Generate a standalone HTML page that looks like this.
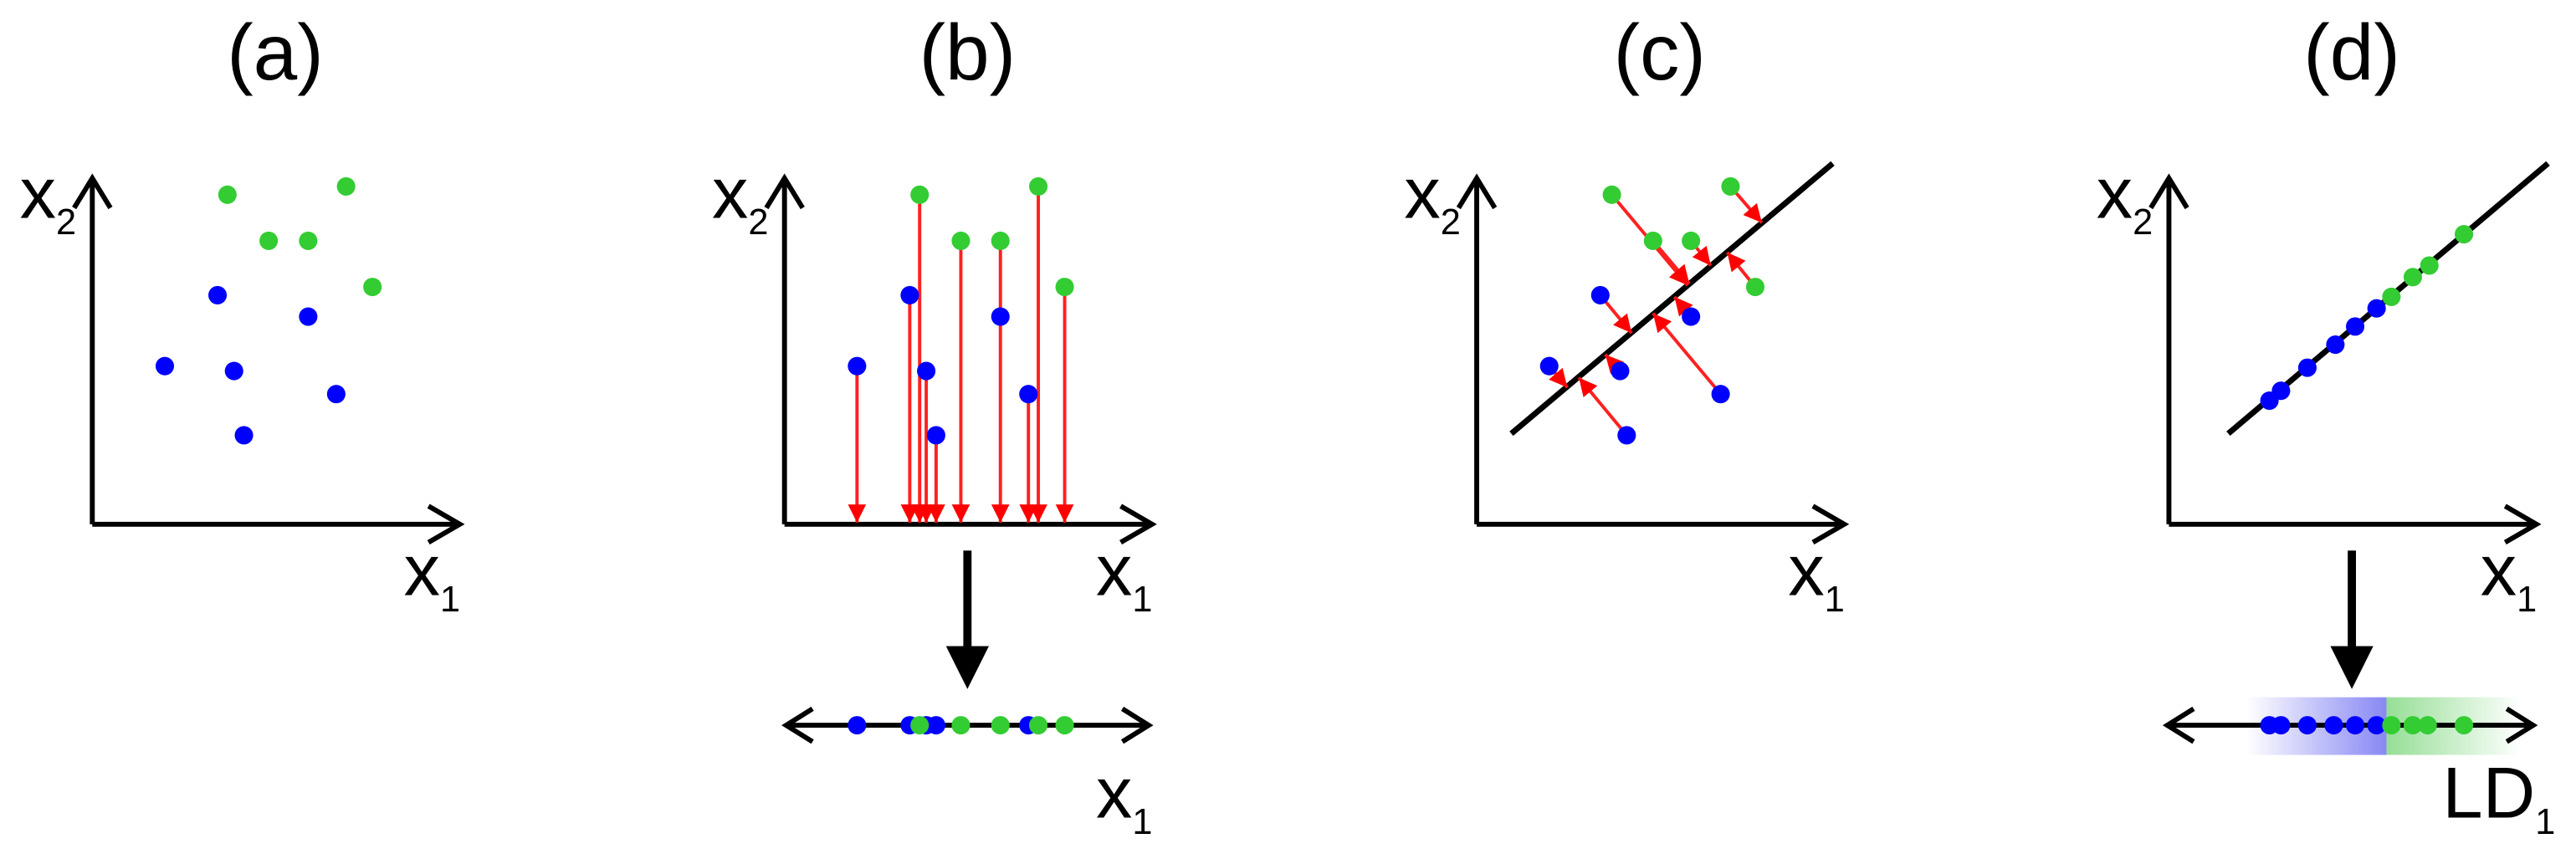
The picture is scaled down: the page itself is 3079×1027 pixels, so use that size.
<!DOCTYPE html>
<html><head><meta charset="utf-8"><style>html,body{margin:0;padding:0;background:#fff}svg{display:block}</style></head><body>
<svg width="3079" height="1027" viewBox="0 0 1563 521" xmlns="http://www.w3.org/2000/svg" font-family="Liberation Sans, Arial, sans-serif">
<defs>
<marker id="rh" viewBox="0 0 10 10" refX="10" refY="5" markerWidth="5.5" markerHeight="6" markerUnits="strokeWidth" orient="auto"><path d="M0,0 L10,5 L0,10 z" fill="#ff0000"/></marker>
<linearGradient id="gb" x1="0" x2="1" y1="0" y2="0"><stop offset="0" stop-color="#6060f0" stop-opacity="0"/><stop offset="1" stop-color="#6060f0" stop-opacity="0.75"/></linearGradient>
<linearGradient id="gg" x1="0" x2="1" y1="0" y2="0"><stop offset="0" stop-color="#50c850" stop-opacity="0.6"/><stop offset="1" stop-color="#50c850" stop-opacity="0"/></linearGradient>
<g id="axes" fill="none" stroke="#000" stroke-width="3">
<path d="M56,318 V108 M45,126 L56,108 L67,126"/>
<path d="M56,318 H279 M260,307 L279,318 L260,329"/>
</g>
</defs>

<g font-size="48" text-anchor="middle" fill="#000">
<text x="167" y="48">(a)</text><text x="587" y="48">(b)</text><text x="1007" y="48">(c)</text><text x="1427" y="48">(d)</text>
</g>

<g>
<use href="#axes"/><use href="#axes" x="420"/><use href="#axes" x="840"/><use href="#axes" x="1260"/>
</g>
<g fill="#000" font-size="44">
<text x="12" y="132">x<tspan font-size="22" dy="10">2</tspan></text>
<text x="432" y="132">x<tspan font-size="22" dy="10">2</tspan></text>
<text x="852" y="132">x<tspan font-size="22" dy="10">2</tspan></text>
<text x="1272" y="132">x<tspan font-size="22" dy="10">2</tspan></text>
<text x="245" y="361">x<tspan font-size="22" dy="10">1</tspan></text>
<text x="665" y="361">x<tspan font-size="22" dy="10">1</tspan></text>
<text x="1085" y="361">x<tspan font-size="22" dy="10">1</tspan></text>
<text x="1505" y="361">x<tspan font-size="22" dy="10">1</tspan></text>
<text x="665" y="496">x<tspan font-size="22" dy="10">1</tspan></text>
<text x="1482" y="496">LD<tspan font-size="22" dy="10">1</tspan></text>
</g>

<g fill="#33cc33"><circle cx="138" cy="118" r="5.6"/><circle cx="163" cy="146" r="5.6"/><circle cx="187" cy="146" r="5.6"/><circle cx="210" cy="113" r="5.6"/><circle cx="226" cy="174" r="5.6"/></g>
<g fill="#0000ff"><circle cx="100" cy="222" r="5.6"/><circle cx="132" cy="179" r="5.6"/><circle cx="142" cy="225" r="5.6"/><circle cx="148" cy="264" r="5.6"/><circle cx="187" cy="192" r="5.6"/><circle cx="204" cy="239" r="5.6"/></g>

<g stroke="#ff2020" stroke-width="2" marker-end="url(#rh)">
<line x1="520" y1="222" x2="520" y2="317"/><line x1="552" y1="179" x2="552" y2="317"/><line x1="558" y1="118" x2="558" y2="317"/>
<line x1="562" y1="225" x2="562" y2="317"/><line x1="568" y1="264" x2="568" y2="317"/><line x1="583" y1="146" x2="583" y2="317"/>
<line x1="607" y1="146" x2="607" y2="317"/><line x1="624" y1="239" x2="624" y2="317"/><line x1="630" y1="113" x2="630" y2="317"/>
<line x1="646" y1="174" x2="646" y2="317"/>
</g>
<g fill="#33cc33"><circle cx="558" cy="118" r="5.6"/><circle cx="583" cy="146" r="5.6"/><circle cx="607" cy="146" r="5.6"/><circle cx="630" cy="113" r="5.6"/><circle cx="646" cy="174" r="5.6"/></g>
<g fill="#0000ff"><circle cx="520" cy="222" r="5.6"/><circle cx="552" cy="179" r="5.6"/><circle cx="562" cy="225" r="5.6"/><circle cx="568" cy="264" r="5.6"/><circle cx="607" cy="192" r="5.6"/><circle cx="624" cy="239" r="5.6"/></g>
<path d="M587,334 V395" stroke="#000" stroke-width="5"/><path d="M574,392 H600 L587,418 z" fill="#000"/>
<path d="M477,440 H697 M493,430 L477,440 L493,450 M681,430 L697,440 L681,450" fill="none" stroke="#000" stroke-width="3"/>
<g fill="#0000ff"><circle cx="520" cy="440" r="5.6"/><circle cx="552" cy="440" r="5.6"/><circle cx="562" cy="440" r="5.6"/><circle cx="568" cy="440" r="5.6"/><circle cx="624" cy="440" r="5.6"/></g>
<g fill="#33cc33"><circle cx="558" cy="440" r="5.6"/><circle cx="583" cy="440" r="5.6"/><circle cx="607" cy="440" r="5.6"/><circle cx="630" cy="440" r="5.6"/><circle cx="646" cy="440" r="5.6"/></g>

<line x1="917" y1="263" x2="1112" y2="99" stroke="#000" stroke-width="3.5"/>
<g stroke="#ff2020" stroke-width="2" marker-end="url(#rh)">
<line x1="978" y1="118" x2="1024" y2="173"/><line x1="1050" y1="113" x2="1069" y2="135"/><line x1="1003" y1="146" x2="1025" y2="172"/>
<line x1="1026" y1="146" x2="1038" y2="161"/><line x1="1065" y1="174" x2="1048" y2="153"/>
<line x1="971" y1="179" x2="990" y2="202"/><line x1="1026" y1="192" x2="1016" y2="180"/><line x1="940" y1="222" x2="951" y2="235"/>
<line x1="983" y1="225" x2="974" y2="215"/><line x1="1044" y1="239" x2="1003" y2="190"/><line x1="987" y1="264" x2="958" y2="229"/>
</g>
<g fill="#33cc33"><circle cx="978" cy="118" r="5.6"/><circle cx="1050" cy="113" r="5.6"/><circle cx="1003" cy="146" r="5.6"/><circle cx="1026" cy="146" r="5.6"/><circle cx="1065" cy="174" r="5.6"/></g>
<g fill="#0000ff"><circle cx="971" cy="179" r="5.6"/><circle cx="1026" cy="192" r="5.6"/><circle cx="940" cy="222" r="5.6"/><circle cx="983" cy="225" r="5.6"/><circle cx="1044" cy="239" r="5.6"/><circle cx="987" cy="264" r="5.6"/></g>

<line x1="1352" y1="263" x2="1546" y2="99" stroke="#000" stroke-width="3.5"/>
<g fill="#0000ff"><circle cx="1377" cy="243" r="5.6"/><circle cx="1384" cy="237" r="5.6"/><circle cx="1400" cy="223" r="5.6"/><circle cx="1417" cy="209" r="5.6"/><circle cx="1429" cy="198" r="5.6"/><circle cx="1442" cy="187" r="5.6"/></g>
<g fill="#33cc33"><circle cx="1451" cy="180" r="5.6"/><circle cx="1464" cy="168" r="5.6"/><circle cx="1474" cy="161" r="5.6"/><circle cx="1495" cy="142" r="5.6"/></g>
<rect x="1363" y="423" width="85" height="35" fill="url(#gb)"/>
<rect x="1448" y="423" width="82" height="35" fill="url(#gg)"/>
<path d="M1427,334 V395" stroke="#000" stroke-width="5"/><path d="M1414,392 H1440 L1427,418 z" fill="#000"/>
<path d="M1315,440 H1537 M1331,430 L1315,440 L1331,450 M1521,430 L1537,440 L1521,450" fill="none" stroke="#000" stroke-width="3"/>
<g fill="#0000ff"><circle cx="1377" cy="440" r="5.6"/><circle cx="1384" cy="440" r="5.6"/><circle cx="1400" cy="440" r="5.6"/><circle cx="1416" cy="440" r="5.6"/><circle cx="1429" cy="440" r="5.6"/><circle cx="1442" cy="440" r="5.6"/></g>
<g fill="#33cc33"><circle cx="1451" cy="440" r="5.6"/><circle cx="1464" cy="440" r="5.6"/><circle cx="1473" cy="440" r="5.6"/><circle cx="1495" cy="440" r="5.6"/></g>
</svg>
</body></html>
